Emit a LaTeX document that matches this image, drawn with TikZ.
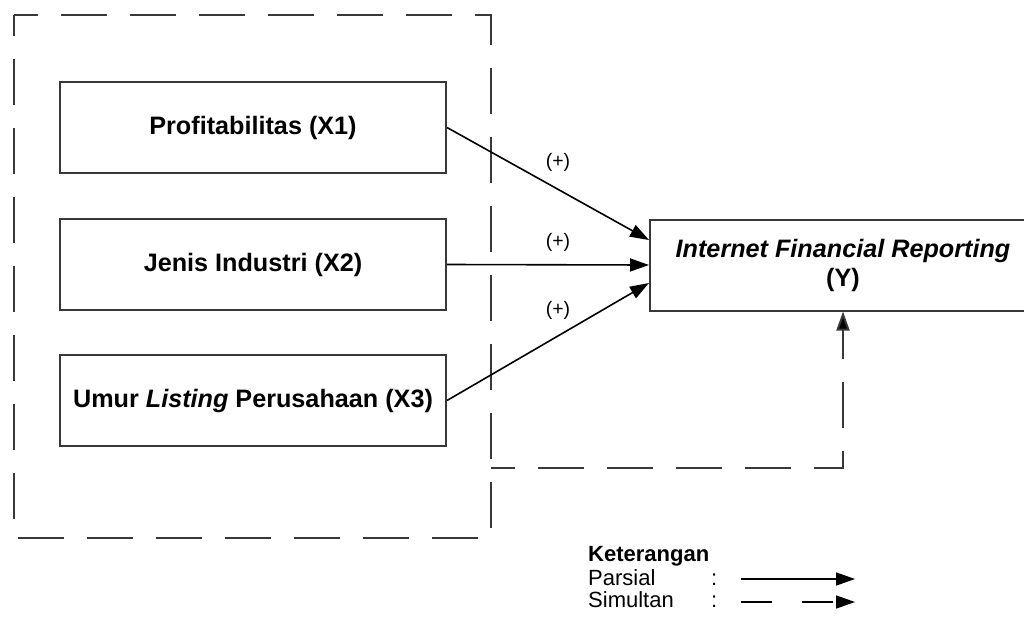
\documentclass[tikz,border=0pt]{standalone}
\usepackage{fontspec}
\setmainfont{Liberation Sans}
\usetikzlibrary{arrows.meta,calc}
\definecolor{linegray}{HTML}{383838}
\begin{document}
\begin{tikzpicture}[x=1pt,y=-1pt,
  box/.style={draw=linegray, line width=2pt, minimum width=386pt, minimum height=91pt,
    inner sep=0pt, align=center, font=\fontsize{25.2}{29}\selectfont\bfseries},
  arr/.style={-{Triangle[length=19pt,width=13pt]}, line width=1.6pt, black},
  dsh/.style={draw=linegray, line width=2pt, dash pattern=on 46pt off 23pt, dash phase=22pt},
  lbl/.style={inner sep=0pt, font=\fontsize{19.5}{22}\selectfont},
  leg/.style={inner sep=0pt, anchor=base west, font=\fontsize{22}{24}\selectfont}
]
\useasboundingbox (0,0) rectangle (1024,618);
\clip (0,0) rectangle (1024,618);
% dashed group frame
\coordinate (f1) at (14,15);
\coordinate (f2) at (491,15);
\coordinate (f3) at (491,538);
\coordinate (f4) at (14,538);
\draw[dsh] (f1) -- (f2) -- (f3) -- (f4) -- cycle;
% boxes
\node[box] (x1) at (253,127.5) {Profitabilitas (X1)};
\node[box] (x2) at (253,264.5) {Jenis Industri (X2)};
\node[box] (x3) at (253,400.5) {Umur \textit{Listing} Perusahaan (X3)};
\node[box] (y) at (843,265) {\textit{Internet Financial Reporting}\\(Y)};
% partial arrows
\coordinate (y1) at ($(y.west)+(0,-25)$);
\coordinate (y3) at ($(y.west)+(0,18)$);
\draw[arr] (x1.east) -- (y1);
\draw[arr] (x2.east) -- (y.west);
\draw[arr] (x3.east) -- (y3);
\node[lbl] (p1) at (558,162) {(+)};
\node[lbl] (p2) at (558,242) {(+)};
\node[lbl] (p3) at (558,310) {(+)};
% simultaneous arrow
\coordinate (s0) at (491,468);
\coordinate (s1) at (843,468);
\draw[dsh, -{Triangle[length=19pt,width=13pt,fill=black]}] (s0) -- (s1) -- (y.south);
% legend
\node[leg, font=\fontsize{22}{24}\selectfont\bfseries] (ket) at (588,561) {Keterangan};
\node[leg] (par) at (588,585) {Parsial};
\node[leg] (sim) at (588,607) {Simultan};
\node[leg] (c1) at (711,585) {:};
\node[leg] (c2) at (711,607) {:};
\coordinate (pa0) at (741,579);
\coordinate (pa1) at (855,579);
\coordinate (sa0) at (741,602);
\coordinate (sa1) at (855,602);
\draw[arr] (pa0) -- (pa1);
\draw[arr, dash pattern=on 31pt off 30pt] (sa0) -- (sa1);
\end{tikzpicture}
\end{document}
